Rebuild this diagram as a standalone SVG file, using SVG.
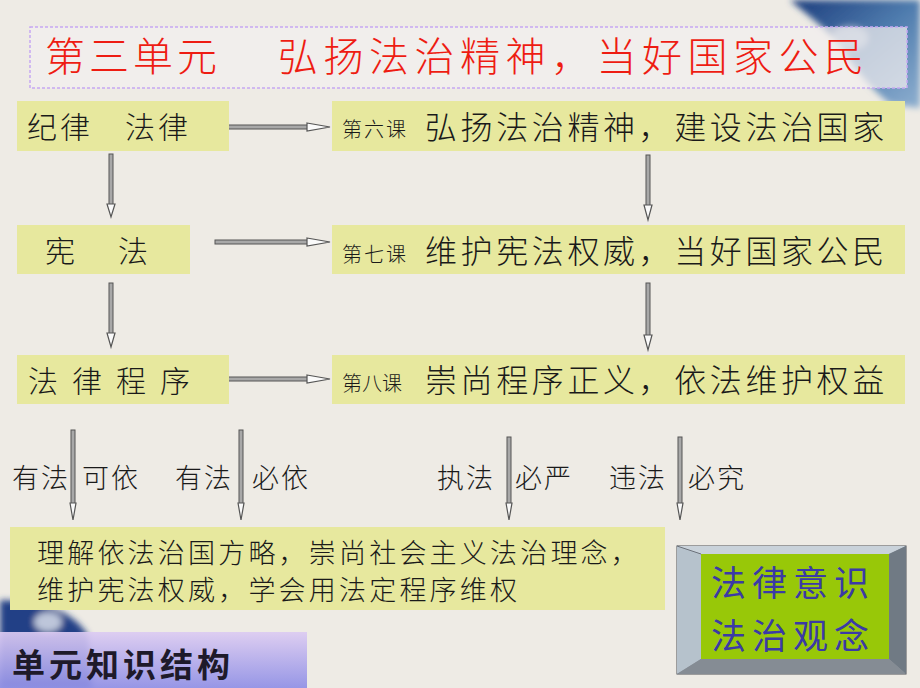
<svg xmlns="http://www.w3.org/2000/svg" width="920" height="688" viewBox="0 0 920 688">
<defs>
<style>
.box{fill:#e7e89e}
.t{font-family:"Noto Sans CJK SC","Noto Sans CJK JP",sans-serif;fill:#1a1a1a;font-weight:300}
.red{font-family:"Noto Sans CJK SC",sans-serif;fill:#ee1c12;font-size:40px;font-weight:300}
.shaft{fill:#a8a8a8;stroke:#555;stroke-width:1}
.head{fill:#fafafa;stroke:#555;stroke-width:1.2}
.blue{font-family:"Noto Sans CJK SC",sans-serif;fill:#3b3aa6;font-size:35px}
</style>
<linearGradient id="purp" x1="0" y1="0" x2="0" y2="1">
<stop offset="0" stop-color="#dccbf2"/>
<stop offset="1" stop-color="#8f8fe6"/>
</linearGradient>
<linearGradient id="ink" x1="0" y1="0" x2="1" y2="1">
<stop offset="0" stop-color="#1b3c7c"/>
<stop offset="0.5" stop-color="#4f7cae"/>
<stop offset="1" stop-color="#8fb0d0"/>
</linearGradient>
<filter id="blur"><feGaussianBlur stdDeviation="3"/></filter>
</defs>
<rect width="920" height="688" fill="#eeebe5"/>
<!-- decorations -->
<g id="ink-top" filter="url(#blur)">
<path d="M790,0 L920,0 L920,108 L890,104 C868,86 852,64 840,46 C826,28 806,14 790,0 Z" fill="url(#ink)"/>
<ellipse cx="850" cy="38" rx="18" ry="12" fill="#dfe8f0" opacity="0.5"/>
</g>
<g id="ink-bottom" filter="url(#blur)">
<path d="M0,600 L35,602 C58,608 78,618 88,636 L92,688 L0,688 Z" fill="#213f86"/>
<ellipse cx="48" cy="622" rx="14" ry="10" fill="#e5e8ef" opacity="0.8"/>
</g>
<!-- title -->
<g id="title">
<rect x="30" y="27" width="877" height="61" fill="#f3efee" fill-opacity="0.72" stroke="#c6a8f2" stroke-width="1.5" stroke-dasharray="3,2"/>
<text class="red" x="45" y="71" letter-spacing="4">第三单元</text>
<text class="red" x="278" y="71" letter-spacing="5.5">弘扬法治精神，当好国家公民</text>
</g>
<!-- connectors -->
<g id="connectors">
<rect class="shaft" x="224" y="125" width="86" height="4"/><polygon class="head" points="307,123 330,127 307,131"/>
<rect class="shaft" x="215" y="240" width="95" height="4"/><polygon class="head" points="307,238 330,242 307,246"/>
<rect class="shaft" x="224" y="377" width="86" height="4"/><polygon class="head" points="307,375 330,379 307,383"/>
<rect class="shaft" x="109" y="154" width="4" height="52"/><polygon class="head" points="107,204 111,217 115,204"/>
<rect class="shaft" x="109" y="283" width="4" height="52"/><polygon class="head" points="107,333 111,347 115,333"/>
<rect class="shaft" x="646" y="155" width="4" height="52"/><polygon class="head" points="644,205 648,220 652,205"/>
<rect class="shaft" x="646" y="283" width="4" height="54"/><polygon class="head" points="644,335 648,350 652,335"/>
<rect class="shaft" x="71" y="430" width="4" height="75"/><polygon class="head" points="70,503 73,520 76,503"/>
<rect class="shaft" x="239" y="430" width="4" height="75"/><polygon class="head" points="238,503 241,520 244,503"/>
<rect class="shaft" x="507" y="437" width="4" height="68"/><polygon class="head" points="506,503 509,520 512,503"/>
<rect class="shaft" x="678" y="437" width="4" height="68"/><polygon class="head" points="677,503 680,520 683,503"/>
</g>
<!-- nodes -->
<g id="n-jilv">
<rect class="box" x="17" y="101" width="212" height="50"/>
<text class="t" x="27" y="138" font-size="30" letter-spacing="3">纪律</text>
<text class="t" x="125" y="138" font-size="30" letter-spacing="3">法律</text>
</g>
<g id="n-lesson6">
<rect class="box" x="332" y="101" width="573" height="50"/>
<text class="t" x="342" y="137" font-size="20" letter-spacing="2">第六课</text>
<text class="t" x="425" y="139" font-size="32" letter-spacing="3.6">弘扬法治精神，建设法治国家</text>
</g>
<g id="n-xianfa">
<rect class="box" x="17" y="225" width="173" height="49"/>
<text class="t" x="45" y="262" font-size="30">宪</text>
<text class="t" x="118" y="262" font-size="30">法</text>
</g>
<g id="n-lesson7">
<rect class="box" x="332" y="225" width="573" height="49"/>
<text class="t" x="342" y="262" font-size="20" letter-spacing="2">第七课</text>
<text class="t" x="425" y="263" font-size="32" letter-spacing="3.6">维护宪法权威，当好国家公民</text>
</g>
<g id="n-chengxu">
<rect class="box" x="17" y="355" width="212" height="49"/>
<text class="t" x="28" y="392" font-size="30" letter-spacing="14">法律程序</text>
</g>
<g id="n-lesson8">
<rect class="box" x="332" y="355" width="573" height="49"/>
<text class="t" x="342" y="391" font-size="20" letter-spacing="0">第八课</text>
<text class="t" x="425" y="392" font-size="32" letter-spacing="3.6">崇尚程序正义，依法维护权益</text>
</g>
<g id="labels" class="t" font-size="27">
<text x="12" y="488" letter-spacing="2">有法</text>
<text x="82" y="488" letter-spacing="2">可依</text>
<text x="175" y="488" letter-spacing="2">有法</text>
<text x="252" y="488" letter-spacing="2">必依</text>
<text x="437" y="488" letter-spacing="2">执法</text>
<text x="515" y="488" letter-spacing="2">必严</text>
<text x="609" y="488" letter-spacing="2">违法</text>
<text x="688" y="488" letter-spacing="2">必究</text>
</g>
<g id="n-summary">
<rect class="box" x="10" y="527" width="655" height="83"/>
<text class="t" x="37" y="563" font-size="27" letter-spacing="3.2">理解依法治国方略，崇尚社会主义法治理念，</text>
<text class="t" x="37" y="600" font-size="27" letter-spacing="3.2">维护宪法权威，学会用法定程序维权</text>
</g>
<g id="n-yishi">
<rect x="677" y="546" width="229" height="128" fill="#8d949c" stroke="#4a4f55" stroke-width="1"/>
<polygon points="677,546 906,546 889,554 701,554" fill="#c9d2da"/>
<polygon points="677,546 701,554 701,659 677,674" fill="#b6c2cc"/>
<polygon points="906,546 906,674 889,659 889,554" fill="#707a84"/>
<polygon points="677,674 906,674 889,659 701,659" fill="#858c94"/>
<line x1="677" y1="546" x2="701" y2="554" stroke="#5a6068" stroke-width="0.8"/>
<rect x="701" y="554" width="188" height="105" fill="#98c808"/>
<text class="blue" x="711" y="596" letter-spacing="6">法律意识</text>
<text class="blue" x="711" y="649" letter-spacing="6">法治观念</text>
</g>
<g id="n-unit">
<rect x="0" y="632" width="307" height="56" fill="url(#purp)" fill-opacity="0.92"/>
<text x="12" y="677" font-family="'Noto Sans CJK SC',sans-serif" font-weight="bold" font-size="33" fill="#1e1a2a" letter-spacing="4">单元知识结构</text>
</g>
</svg>
